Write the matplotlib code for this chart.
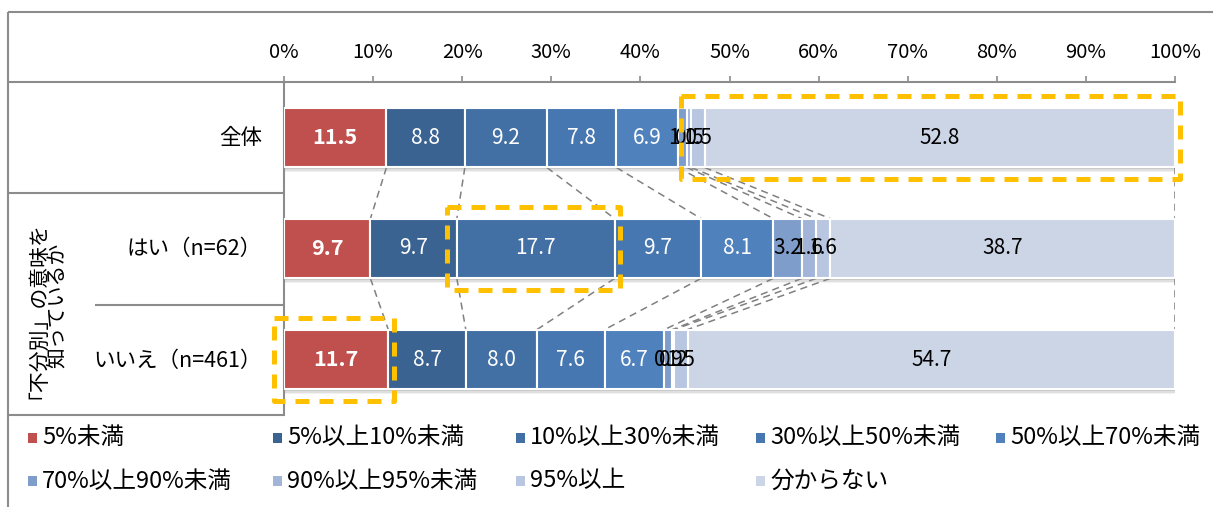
import matplotlib
matplotlib.use("Agg")
import matplotlib.pyplot as plt
from matplotlib.patches import Rectangle
import numpy as np

plt.rcParams['font.family'] = ['Noto Sans CJK JP', 'DejaVu Sans']

# データ
categories = ['全体', 'はい（n=62）', 'いいえ（n=461）']
group_label = ['「不分別」の意味を', '知っているか']
levels = ['5%未満', '5%以上10%未満', '10%以上30%未満', '30%以上50%未満', '50%以上70%未満',
          '70%以上90%未満', '90%以上95%未満', '95%以上', '分からない']
zentai = [11.5, 8.8, 9.2, 7.8, 6.9, 1.0, 0.5, 1.5, 52.8]
hai = [9.7, 9.7, 17.7, 9.7, 8.1, 3.2, 1.6, 1.6, 38.7]
iie = [11.7, 8.7, 8.0, 7.6, 6.7, 0.9, 0.2, 1.5, 54.7]
xticks = list(range(0, 101, 10))

# 強調枠 (行, 最初の区分, 最後の区分)
highlights = [(0, 7, 8), (1, 2, 2), (2, 0, 0)]

colors = ['#C0504D', '#3B6392', '#4270A4', '#4777B1', '#4F81BD',
          '#7F9DCB', '#A2B5D8', '#B8C6E1', '#CCD5E6']
text_colors = ['white'] * 5 + ['black'] * 4

W, H = 1213, 507
fig = plt.figure(figsize=(W / 100, H / 100), dpi=100)

# 背景の表（ピクセル座標）
bg = fig.add_axes([0, 0, 1, 1], zorder=0)
bg.set_xlim(0, W)
bg.set_ylim(H, 0)
bg.axis('off')
grid_c = '#8c8c8c'
for (x0, y0, x1, y1) in [(8, 12, W, 12), (8, 12, 8, H), (8, 82, 284, 82),
                         (8, 193, 284, 193), (95, 305, 284, 305),
                         (8, 415, 284, 415)]:
    bg.plot([x0, x1], [y0, y1], color=grid_c, lw=1.5, solid_capstyle='butt')

# 行ラベル
row_y = [138, 249, 361]
for lab, yy in zip(categories, row_y):
    bg.text(262, yy, lab, ha='right', va='center', fontsize=15.5)
for lab, gx in zip(group_label, [27, 57]):
    bg.text(gx, 305, lab, ha='center', va='center', rotation=90,
            rotation_mode='anchor', fontsize=15)

# 凡例
leg_x = [28, 273, 516, 756, 996]
leg_y = [438, 481]
for i, (lab, c) in enumerate(zip(levels, colors)):
    lx = leg_x[i % 5]
    ly = leg_y[i // 5]
    bg.add_patch(Rectangle((lx, ly - 5), 9, 10, facecolor=c, edgecolor='none'))
    bg.text(lx + 14, ly, lab, ha='left', va='center', fontsize=17)

# 帯グラフ
ax = fig.add_axes([284 / W, 1 - 415 / H, (1175 - 284) / W, (415 - 82) / H], zorder=1)
ax.patch.set_alpha(0)
data = np.array([zentai, hai, iie])
ypos = np.arange(len(categories))
bh = 0.54
lefts = np.cumsum(data, axis=1) - data
totals = data.sum(axis=1)

# 影
for dy, al in [(0.045, 0.1), (0.03, 0.16), (0.018, 0.25)]:
    ax.barh(ypos + dy, totals + 0.15, height=bh, left=0, color='#808080',
            alpha=al, zorder=1, linewidth=0)

for j in range(len(levels)):
    ax.barh(ypos, data[:, j], left=lefts[:, j], height=bh, color=colors[j],
            edgecolor='white', linewidth=1.5, zorder=3)
    for i in range(len(categories)):
        v = data[i, j]
        ax.text(lefts[i, j] + v / 2, ypos[i], f'{v:.1f}', ha='center', va='center',
                color=text_colors[j], fontsize=15.5 if j == 0 else 15,
                fontweight='bold' if j == 0 else 'normal', zorder=5)

# 区分の境界を結ぶ破線
bounds = np.cumsum(data, axis=1)
for i in range(len(categories) - 1):
    for b0, b1 in zip(bounds[i], bounds[i + 1]):
        ax.plot([b0, b1], [ypos[i] + bh / 2, ypos[i + 1] - bh / 2], color='#808080',
                lw=1.1, linestyle=(0, (4.7, 3.3)), zorder=2)

# 強調枠
for r, s0, s1 in highlights:
    x0 = lefts[r, s0] - 1.1
    x1 = bounds[r, s1] + 0.6
    y0 = ypos[r] - bh / 2 - 0.108
    y1 = ypos[r] + bh / 2 + 0.108
    ax.add_patch(Rectangle((x0, y0), x1 - x0, y1 - y0, fill=False, edgecolor='#FFC000',
                           lw=3.6, linestyle=(0, (2.8, 2.0)), clip_on=False, zorder=6,
                           joinstyle='round'))

ax.set_xlim(0, 100)
ax.set_ylim(len(categories) - 0.5, -0.5)
ax.xaxis.set_ticks_position('top')
ax.set_xticks(xticks)
ax.set_xticklabels([f'{t}%' for t in xticks])
ax.tick_params(axis='x', length=4.5, width=1.2, color=grid_c, pad=9, labelsize=14.5)
ax.set_yticks([])
for s in ['right', 'bottom']:
    ax.spines[s].set_visible(False)
for s in ['top', 'left']:
    ax.spines[s].set_color(grid_c)
    ax.spines[s].set_linewidth(1.5)

fig.savefig('out.png', dpi=100)
